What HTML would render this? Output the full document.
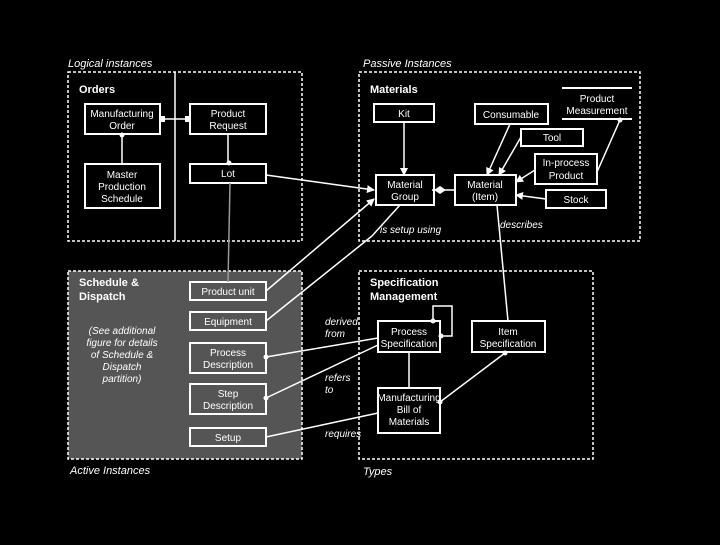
<!DOCTYPE html>
<html><head><style>
body{margin:0;background:#000;width:720px;height:540px;overflow:hidden}
svg text{font-family:"Liberation Sans",sans-serif;fill:#fff}
</style></head><body>
<svg width="720" height="540" viewBox="0 0 720 540" xmlns="http://www.w3.org/2000/svg">
<defs>
<marker id="a" markerWidth="8" markerHeight="8" refX="7" refY="4" orient="auto" markerUnits="userSpaceOnUse"><path d="M0,0 L8,4 L0,8 z" fill="#fff"/></marker>
</defs>
<g fill="none" stroke="#fff" stroke-width="1.5">
<rect x="68" y="271" width="234" height="188" fill="#555" stroke-dasharray="3,2"/>
<rect x="68" y="72" width="234" height="169" stroke-dasharray="3,2"/>
<rect x="359" y="72" width="281" height="169" stroke-dasharray="3,2"/>
<rect x="359" y="271" width="234" height="188" stroke-dasharray="3,2"/>
<line x1="175" y1="72" x2="175" y2="241"/>
<g stroke-width="2">
<rect x="85" y="104" width="75" height="30"/>
<rect x="190" y="104" width="76" height="30"/>
<rect x="85" y="164" width="75" height="44"/>
<rect x="190" y="164" width="76" height="19"/>
<rect x="374" y="104" width="60" height="18"/>
<rect x="475" y="104" width="73" height="20"/>
<rect x="521" y="129" width="62" height="17"/>
<rect x="535" y="154" width="62" height="30"/>
<rect x="546" y="190" width="60" height="18"/>
<rect x="376" y="175" width="58" height="30"/>
<rect x="455" y="175" width="61" height="30"/>
<line x1="562" y1="88" x2="632" y2="88"/><line x1="562" y1="119" x2="632" y2="119"/>
<rect x="190" y="282" width="76" height="18"/>
<rect x="190" y="312" width="76" height="18"/>
<rect x="190" y="343" width="76" height="30"/>
<rect x="190" y="384" width="76" height="30"/>
<rect x="190" y="428" width="76" height="18"/>
<rect x="378" y="321" width="62" height="31"/>
<rect x="472" y="321" width="73" height="31"/>
<rect x="378" y="388" width="62" height="45"/>
</g>
<line x1="160" y1="119" x2="190" y2="119"/>
<line x1="122" y1="134" x2="122" y2="164"/>
<line x1="228" y1="134" x2="228" y2="164"/>
<line x1="230" y1="183" x2="228" y2="282" stroke="#999"/>
<line x1="266" y1="175" x2="374" y2="190" marker-end="url(#a)"/>
<line x1="266" y1="291" x2="374" y2="199" marker-end="url(#a)"/>
<line x1="266" y1="321" x2="372" y2="236"/>
<line x1="400" y1="205" x2="372" y2="236"/>
<line x1="404" y1="122" x2="404" y2="175" marker-end="url(#a)"/>
<line x1="432" y1="190" x2="455" y2="190"/>
<line x1="510" y1="124" x2="487" y2="175" marker-end="url(#a)"/>
<line x1="521" y1="137" x2="499" y2="175" marker-end="url(#a)"/>
<line x1="535" y1="170" x2="516" y2="182" marker-end="url(#a)"/>
<line x1="546" y1="199" x2="516" y2="195" marker-end="url(#a)"/>
<line x1="620" y1="120" x2="597" y2="172"/>
<line x1="497" y1="205" x2="508" y2="321"/>
<line x1="266" y1="357" x2="378" y2="338"/>
<line x1="266" y1="398" x2="378" y2="345"/>
<line x1="266" y1="437" x2="378" y2="413"/>
<line x1="409" y1="352" x2="409" y2="388"/>
<line x1="440" y1="402" x2="505" y2="353"/>
<polyline points="433,321 433,306 452,306 452,336 440,336"/>
</g>
<g fill="#fff">
<rect x="160" y="116" width="5" height="6"/><rect x="185" y="116" width="5" height="6"/>
<circle cx="122" cy="135" r="2.5"/><circle cx="229" cy="163" r="2.5"/>
<path d="M434,190 L440,186 L446,190 L440,194 z"/>
<circle cx="620" cy="120" r="2.5"/>
<circle cx="266" cy="357" r="2.5"/><circle cx="266" cy="398" r="2.5"/>
<circle cx="433" cy="321" r="2.5"/><circle cx="441" cy="336" r="2.5"/>
<circle cx="505" cy="353" r="2.5"/><circle cx="440" cy="402" r="2.5"/>
</g>
<g font-size="10" text-anchor="middle">
<text x="122" y="117">Manufacturing</text><text x="122" y="129">Order</text>
<text x="228" y="117">Product</text><text x="228" y="129">Request</text>
<text x="122" y="178">Master</text><text x="122" y="190">Production</text><text x="122" y="202">Schedule</text>
<text x="228" y="177">Lot</text>
<text x="404" y="117">Kit</text>
<text x="511" y="118">Consumable</text>
<text x="597" y="102">Product</text><text x="597" y="114">Measurement</text>
<text x="552" y="141">Tool</text>
<text x="566" y="166">In-process</text><text x="566" y="179">Product</text>
<text x="576" y="203">Stock</text>
<text x="405" y="188">Material</text><text x="405" y="200">Group</text>
<text x="485" y="188">Material</text><text x="485" y="200">(Item)</text>
<text x="228" y="295">Product unit</text>
<text x="228" y="325">Equipment</text>
<text x="228" y="356">Process</text><text x="228" y="368">Description</text>
<text x="228" y="397">Step</text><text x="228" y="409">Description</text>
<text x="228" y="441">Setup</text>
<text x="409" y="335">Process</text><text x="409" y="347">Specification</text>
<text x="508" y="335">Item</text><text x="508" y="347">Specification</text>
<text x="409" y="401">Manufacturing</text><text x="409" y="413">Bill of</text><text x="409" y="425">Materials</text>
</g>
<g font-size="10" font-style="italic" text-anchor="middle">
<text x="122" y="334">(See additional</text><text x="122" y="346">figure for details</text><text x="122" y="358">of Schedule &amp;</text><text x="122" y="370">Dispatch</text><text x="122" y="382">partition)</text>
</g>
<g font-size="10" font-style="italic">
<text x="380" y="233">is setup using</text>
<text x="500" y="228">describes</text>
<text x="325" y="325">derived</text><text x="325" y="337">from</text>
<text x="325" y="381">refers</text><text x="325" y="393">to</text>
<text x="325" y="437">requires</text>
</g>
<g font-size="11" font-style="italic">
<text x="68" y="67">Logical instances</text>
<text x="363" y="67">Passive Instances</text>
<text x="70" y="474">Active Instances</text>
<text x="363" y="475">Types</text>
</g>
<g font-size="11" font-weight="bold">
<text x="79" y="93">Orders</text>
<text x="370" y="93">Materials</text>
<text x="79" y="286">Schedule &amp;</text><text x="79" y="300">Dispatch</text>
<text x="370" y="286">Specification</text><text x="370" y="300">Management</text>
</g>
</svg>
</body></html>
